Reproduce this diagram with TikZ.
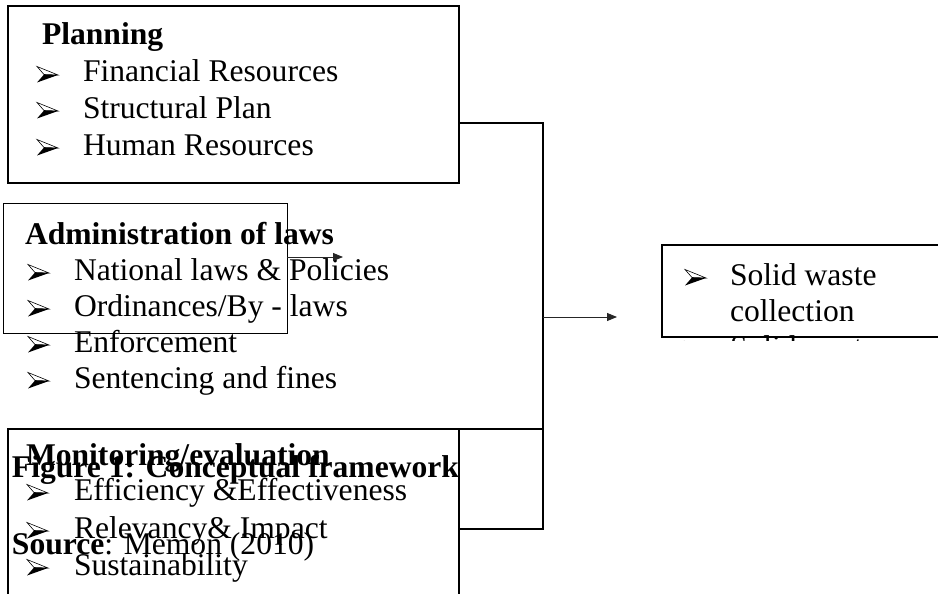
\documentclass[tikz,border=0pt]{standalone}
\usepackage{fontspec}
\setmainfont{Liberation Serif}
\usetikzlibrary{arrows.meta,calc}
\begin{document}
\begin{tikzpicture}[x=1pt,y=-1pt,
  box/.style={draw,inner sep=0pt,outer sep=0pt,anchor=north west},
  txt/.style={anchor=base west,inner sep=0pt,outer sep=0pt,font=\fontsize{31.6pt}{36pt}\selectfont},
  bt/.style={txt,font=\fontsize{31.6pt}{36pt}\selectfont\bfseries},
  conn/.style={line width=2pt},
  arr/.style={line width=0.9pt,draw=black!85,-{Triangle[length=10pt,width=8pt]}},
  bullet/.pic={
    \draw[line width=0.6pt,line join=miter] (0,-15.5) -- (21,-7) -- (7,-7.5) -- cycle;
    \fill (7,-7.5) -- (21,-7) -- (0,0.5) -- cycle;
  }]
\useasboundingbox (0,0) rectangle (938,594);
\clip (0,0) rectangle (938,594);
% boxes
\node[box,line width=2pt,minimum width=451pt,minimum height=177pt] (plan) at (8,6) {};
\node[box,line width=1pt,minimum width=284pt,minimum height=130pt] (admin) at (3,203) {};
\node[box,line width=2pt,minimum width=451pt,minimum height=200pt] (mon) at (8,429) {};
\node[box,line width=1.5pt,minimum width=300pt,minimum height=92pt] (solid) at (662,245) {};
% planning text
\node[bt] (pt) at (42,45) {Planning};
\pic at (37,82) {bullet};  \node[txt] (p1) at (83,82) {Financial Resources};
\pic at (37,118) {bullet}; \node[txt] (p2) at (83,118) {Structural Plan};
\pic at (37,155) {bullet}; \node[txt] (p3) at (83,155) {Human Resources};
% administration text
\node[bt] (at) at (25,244) {Administration of laws};
\pic at (28,280) {bullet}; \node[txt] (a1) at (74,280) {National laws \& Policies};
\pic at (28,316) {bullet}; \node[txt] (a2) at (74,316) {Ordinances/By - laws};
\pic at (28,352) {bullet}; \node[txt] (a3) at (74,352) {Enforcement};
\pic at (28,388) {bullet}; \node[txt] (a4) at (74,388) {Sentencing and fines};
% monitoring text
\node[bt] (mt) at (26,465) {Monitoring/evaluation};
\node[bt] (fig) at (12,477) {Figure 1: Conceptual framework};
\pic at (27,500) {bullet}; \node[txt] (m1) at (74,500) {Efficiency \&Effectiveness};
\pic at (27,538) {bullet}; \node[txt] (m2) at (74,538) {Relevancy\& Impact};
\node[txt] (src) at (12,554) {\textbf{Source}: Memon (2010)};
\pic at (27,575) {bullet}; \node[txt] (m3) at (74,575) {Sustainability};
% solid waste text
\pic at (685,285) {bullet}; \node[txt] (s1) at (730,285) {Solid waste};
\node[txt] (s2) at (730,321) {collection};
\begin{scope}
\clip (600,0) rectangle (938,340.5);
\pic at (685,357) {bullet}; \node[txt] (s3) at (730,357) {Solid waste};
\end{scope}
% connectors
\coordinate (c1) at (plan.north east |- 0,123);
\coordinate (c2) at (543,123);
\coordinate (c3) at (543,529);
\coordinate (c4) at (mon.north east |- 0,529);
\coordinate (c6) at (mon.north east -| c2);
\draw[conn] (c1) -- (c2) -- (c3) -- (c4);
\draw[conn] (mon.north east) -- (c6);
\coordinate (c5) at (543,317);
\coordinate (e1) at (617,317);
\draw[arr] (c5) -- (e1);
\coordinate (c7) at (admin.north east |- 0,257);
\coordinate (e2) at (343,257);
\draw[arr] (c7) -- (e2);
\end{tikzpicture}
\end{document}
